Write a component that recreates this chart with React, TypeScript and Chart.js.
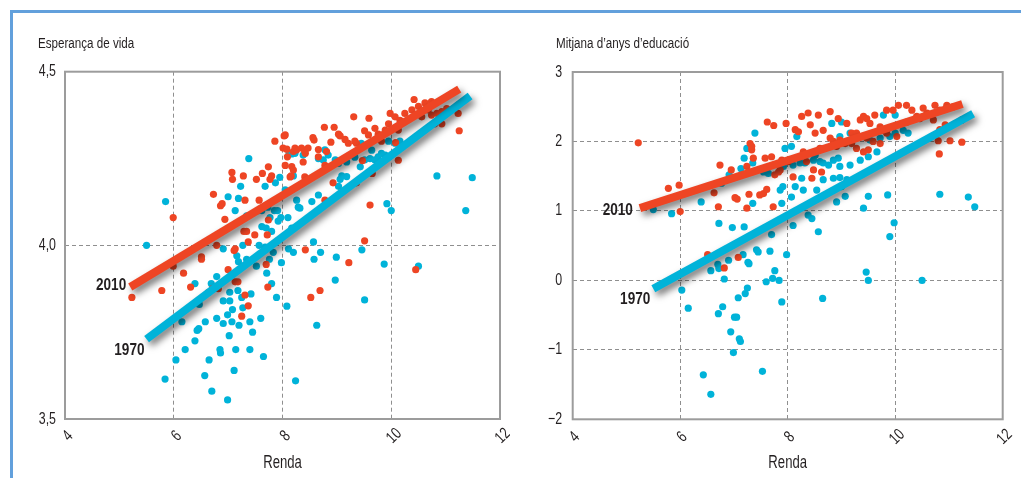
import React, { useEffect, useRef } from 'react';
import { Chart, registerables } from 'chart.js';

Chart.register(...registerables);

const FONT = '"Liberation Sans Narrow", "Liberation Sans", Arial, sans-serif';
const SX = 0.75; // horizontal squeeze to imitate a condensed face
const SX_BOLD = 0.8;
const RED = '#EE4524';
const BLUE = '#00B3D9';
const GRID = '#8f8f8f';
const BORDER = '#9c9c9c';
const FRAME = '#62a0dc';
const TEXT = '#231f20';

// ---------- shared axis data ----------
const xTicks = [4, 6, 8, 10, 12];
const xTickLabels = ['4', '6', '8', '10', '12'];
const xTitle = 'Renda';

// ---------- panel 1: life expectancy ----------
const lifeTitle = 'Esperança de vida';
const lifeYTicks = [3.5, 4.0, 4.5];
const lifeYTickLabels = ['3,5', '4,0', '4,5'];

const life2010: number[][] = [
  [5.23, 3.85], [5.78, 3.87], [5.99, 3.94], [5.99, 4.08], [6.18, 3.92], [6.31, 3.88], [6.51, 3.96],
  [6.51, 3.967], [6.64, 3.865], [6.71, 3.875], [6.73, 4.147], [6.79, 4.0], [6.82, 3.875], [6.86, 4.114],
  [6.89, 4.12], [6.94, 4.075], [7.0, 3.93], [7.07, 4.21], [7.08, 4.19], [7.11, 3.985], [7.13, 3.895],
  [7.18, 3.895], [7.13, 3.99], [7.25, 3.796], [7.28, 4.2], [7.29, 4.04], [7.31, 4.13], [7.31, 3.857],
  [7.34, 4.04], [7.37, 3.826], [7.37, 4.01], [7.49, 4.03], [7.52, 4.19], [7.57, 4.13], [7.63, 4.207],
  [7.7, 3.945], [7.72, 4.03], [7.73, 3.88], [7.74, 4.226], [7.74, 4.073], [7.77, 4.19], [7.8, 4.2],
  [7.86, 4.3], [8.03, 4.315], [8.01, 4.28], [8.05, 4.23], [8.05, 4.318], [8.08, 4.277], [8.09, 4.255],
  [8.14, 4.197], [8.16, 4.2], [8.17, 4.227], [8.2, 4.27], [8.2, 4.217], [8.23, 4.28], [8.26, 4.275],
  [8.35, 4.28], [8.38, 4.24], [8.41, 4.27], [8.41, 4.197], [8.42, 4.265], [8.42, 3.987], [8.47, 4.28],
  [8.52, 3.85], [8.56, 4.31], [8.58, 4.303], [8.66, 4.276], [8.66, 4.255], [8.69, 3.87], [8.77, 4.34],
  [8.78, 4.23], [8.78, 4.13], [8.81, 4.27], [8.89, 4.297], [8.93, 4.18], [8.95, 4.34], [9.03, 4.32],
  [9.06, 4.315], [9.15, 4.305], [9.21, 4.294], [9.22, 3.95], [9.31, 4.37], [9.33, 4.3], [9.36, 4.294],
  [9.36, 4.18], [9.47, 4.244], [9.51, 4.33], [9.51, 4.013], [9.58, 4.318], [9.59, 4.366], [9.61, 4.116],
  [9.65, 4.207], [9.7, 4.337], [9.76, 4.32], [9.82, 4.3], [9.89, 4.332], [9.95, 4.35], [9.98, 4.38],
  [10.07, 4.37], [10.08, 4.296], [10.13, 4.332], [10.13, 4.245], [10.16, 4.36], [10.25, 4.38],
  [10.38, 4.39], [10.42, 4.42], [10.45, 3.93], [10.5, 4.4], [10.56, 4.37], [10.62, 4.41], [10.68, 4.39],
  [10.74, 4.414], [10.74, 4.375], [10.8, 4.35], [10.84, 4.38], [10.93, 4.385], [10.93, 4.35],
  [11.02, 4.394], [11.23, 4.38], [11.25, 4.33],
];

const life1970: number[][] = [
  [5.5, 4.0], [5.84, 3.615], [5.85, 4.126], [6.04, 3.67], [6.15, 3.78], [6.21, 3.7], [6.39, 3.725],
  [6.39, 3.89], [6.43, 3.755], [6.46, 3.76], [6.47, 3.83], [6.57, 3.625], [6.58, 3.78], [6.65, 3.67],
  [6.69, 3.89], [6.7, 3.58], [6.79, 3.91], [6.79, 3.79], [6.85, 3.7], [6.86, 3.69], [6.91, 3.84],
  [6.91, 3.775], [6.91, 3.99], [6.99, 3.8], [6.99, 3.555], [7.0, 4.14], [7.02, 3.74], [7.03, 3.865],
  [7.03, 3.84], [7.07, 3.78], [7.08, 3.815], [7.11, 3.64], [7.13, 4.1], [7.14, 3.7], [7.16, 3.97],
  [7.18, 3.87], [7.19, 3.953], [7.19, 4.135], [7.2, 3.77], [7.23, 4.17], [7.25, 3.85], [7.27, 4.0],
  [7.27, 3.82], [7.34, 3.96], [7.34, 4.085], [7.38, 4.25], [7.4, 3.78], [7.4, 3.7], [7.42, 3.86],
  [7.45, 3.75], [7.52, 3.94], [7.56, 4.1], [7.57, 4.0], [7.6, 3.79], [7.62, 4.1], [7.62, 4.054],
  [7.65, 3.68], [7.68, 3.995], [7.68, 4.17], [7.7, 4.05], [7.71, 3.92], [7.73, 4.11], [7.76, 3.96],
  [7.77, 4.08], [7.8, 3.89], [7.8, 4.04], [7.83, 3.98], [7.85, 4.1], [7.87, 4.18], [7.89, 3.85],
  [7.91, 4.1], [7.92, 4.07], [7.95, 4.196], [7.97, 4.08], [7.98, 3.95], [8.05, 4.16], [8.08, 3.825],
  [8.1, 4.08], [8.11, 3.99], [8.12, 4.263], [8.17, 4.263], [8.17, 4.05], [8.2, 4.2], [8.2, 3.98],
  [8.23, 4.265], [8.24, 3.61], [8.26, 4.13], [8.29, 4.11], [8.32, 4.107], [8.38, 4.26], [8.54, 4.126],
  [8.57, 4.01], [8.58, 3.96], [8.63, 3.77], [8.66, 4.145], [8.66, 4.25], [8.7, 3.98], [8.75, 4.246],
  [8.78, 4.275], [8.84, 4.26], [8.97, 3.9], [8.97, 4.246], [8.99, 3.966], [9.03, 4.17], [9.03, 4.236],
  [9.06, 4.19], [9.09, 4.2], [9.18, 4.198], [9.18, 4.24], [9.33, 4.254], [9.43, 4.226], [9.45, 4.294],
  [9.46, 3.987], [9.51, 3.843], [9.51, 4.246], [9.61, 4.25], [9.64, 4.274], [9.7, 4.246], [9.76, 4.255],
  [9.82, 4.265], [9.87, 3.946], [9.89, 4.26], [9.92, 4.12], [9.95, 4.3], [10.0, 4.1], [10.07, 4.294],
  [10.16, 4.3], [10.5, 3.94], [10.84, 4.2], [11.37, 4.1], [11.49, 4.195],
];

const life2010Line: number[][] = [[5.2, 3.88], [11.25, 4.45]];
const life1970Line: number[][] = [[5.5, 3.73], [11.45, 4.43]];

// ---------- panel 2: mean years of education ----------
const eduTitle = 'Mitjana d’anys d’educació';
const eduYTicks = [-2, -1, 0, 1, 2, 3];
const eduYTickLabels = ['−2', '−1', '0', '1', '2', '3'];

const edu2010: number[][] = [
  [5.22, 1.98], [5.78, 1.325], [5.98, 1.37], [6.0, 0.99], [6.51, 0.37], [6.63, 1.26], [6.71, 1.06],
  [6.74, 1.66], [6.82, 0.18], [6.95, 1.59], [7.02, 1.19], [7.06, 1.17], [7.08, 0.33], [7.24, 1.04],
  [7.24, 1.64], [7.28, 1.24], [7.3, 1.97], [7.33, 1.88], [7.33, 1.93], [7.36, 1.76], [7.48, 1.23],
  [7.55, 1.25], [7.58, 1.76], [7.61, 1.31], [7.62, 2.28], [7.7, 1.78], [7.73, 1.06], [7.74, 2.23],
  [7.76, 1.52], [7.83, 1.56], [7.86, 1.59], [7.89, 1.73], [7.97, 2.26], [8.01, 1.71], [8.1, 1.49],
  [8.14, 2.17], [8.2, 2.14], [8.23, 1.78], [8.26, 2.36], [8.29, 1.85], [8.35, 1.71], [8.38, 2.41],
  [8.42, 2.24], [8.45, 1.47], [8.48, 1.59], [8.51, 2.12], [8.57, 2.38], [8.6, 1.9], [8.63, 1.56],
  [8.66, 2.16], [8.79, 2.43], [8.79, 2.05], [8.85, 2.0], [8.91, 1.93], [8.94, 2.33], [8.97, 2.02],
  [9.07, 1.97], [9.1, 2.26], [9.19, 2.12], [9.19, 1.97], [9.28, 2.12], [9.28, 1.9], [9.35, 2.31],
  [9.41, 2.36], [9.41, 1.85], [9.47, 2.33], [9.47, 2.05], [9.5, 1.88], [9.53, 2.26], [9.59, 2.0],
  [9.62, 2.38], [9.72, 2.21], [9.72, 1.97], [9.75, 2.16], [9.84, 2.45], [9.84, 2.12], [9.96, 2.45],
  [10.03, 2.07], [10.06, 2.52], [10.21, 2.52], [10.21, 2.28], [10.31, 2.45], [10.4, 2.36],
  [10.46, 2.33], [10.52, 2.48], [10.59, 2.41], [10.71, 2.31], [10.74, 2.52], [10.8, 2.01],
  [10.82, 1.82], [10.83, 2.45], [10.83, 2.17], [10.93, 2.24], [10.96, 2.52], [11.02, 2.01],
  [11.08, 2.5], [11.24, 2.31], [11.24, 1.99],
];

const edu1970: number[][] = [
  [5.5, 1.02], [5.84, 0.96], [6.03, -0.14], [6.15, -0.4], [6.39, 1.13], [6.43, -1.36], [6.57, 0.14],
  [6.57, -1.64], [6.7, 0.23], [6.71, -0.48], [6.72, 0.82], [6.72, 0.17], [6.77, 1.4], [6.79, -0.38],
  [6.82, 0.02], [6.9, 0.29], [6.91, 1.52], [6.94, -0.74], [6.97, 0.76], [6.99, -1.04], [7.01, -0.53],
  [7.05, -0.53], [7.08, -0.25], [7.1, -0.84], [7.12, -0.88], [7.13, 1.61], [7.17, 0.37], [7.19, 0.77],
  [7.19, 1.76], [7.21, -0.19], [7.24, 1.9], [7.25, -0.11], [7.26, 0.26], [7.28, 0.24], [7.35, 1.69],
  [7.35, 1.11], [7.39, 2.12], [7.42, 0.44], [7.45, 0.41], [7.53, -1.31], [7.55, 1.56], [7.6, -0.02],
  [7.64, 1.54], [7.67, 0.42], [7.7, 0.66], [7.72, 0.03], [7.76, 0.14], [7.84, 0.0], [7.86, 1.3],
  [7.89, -0.31], [7.89, 1.11], [7.91, 1.35], [7.92, 1.64], [7.95, 1.9], [7.98, 0.37], [8.07, 1.93],
  [8.07, 1.2], [8.1, 1.66], [8.1, 0.79], [8.14, 1.35], [8.17, 2.07], [8.23, 1.69], [8.26, 1.47],
  [8.29, 1.3], [8.32, 1.69], [8.38, 0.94], [8.45, 0.89], [8.48, 1.73], [8.51, 1.8], [8.54, 1.3],
  [8.57, 0.7], [8.6, 1.71], [8.65, -0.26], [8.66, 1.69], [8.66, 1.45], [8.76, 1.66], [8.82, 2.26],
  [8.85, 1.73], [8.85, 1.47], [8.91, 1.13], [8.94, 1.76], [8.97, 1.64], [8.97, 1.48], [8.97, 2.07],
  [9.0, 2.28], [9.0, 1.35], [9.07, 1.21], [9.1, 1.45], [9.16, 2.12], [9.16, 1.66], [9.35, 1.73],
  [9.41, 2.07], [9.41, 1.04], [9.46, 0.12], [9.5, 1.78], [9.5, 1.21], [9.5, 0.0], [9.53, 2.02],
  [9.66, 1.85], [9.72, 2.05], [9.78, 2.38], [9.84, 2.14], [9.86, 1.23], [9.9, 2.07], [9.9, 0.63],
  [9.98, 0.83], [10.0, 2.12], [10.0, 2.38], [10.15, 2.16], [10.24, 2.12], [10.5, 0.0], [10.83, 1.24],
  [11.36, 1.2], [11.48, 1.06],
];

const edu2010Line: number[][] = [[5.25, 1.04], [11.25, 2.54]];
const edu1970Line: number[][] = [[5.5, -0.12], [11.45, 2.4]];

const lineLabels = ['2010', '1970'];

// ---------- layout (styles only) ----------
interface Panel {
  title: string;
  yMin: number;
  yMax: number;
  yTicks: number[];
  yTickLabels: string[];
  red: number[][];
  blue: number[][];
  redLine: number[][];
  blueLine: number[][];
  left: number;
  top: number;
  w: number;
  h: number;
  yAxisW: number;
  xAxisH: number;
  padTop: number;
  padRight: number;
  yTickPad: number;
  titleX: number;
  titleY: number;
  xLabelY: number;
  xLabelDx: number;
  xTitleY: number;
  redLabelOff: [number, number];
  blueLabelOff: [number, number];
}

const panels: Panel[] = [
  {
    title: lifeTitle, yMin: 3.5, yMax: 4.5, yTicks: lifeYTicks, yTickLabels: lifeYTickLabels,
    red: life2010, blue: life1970, redLine: life2010Line, blueLine: life1970Line,
    left: 13, top: 13, w: 497, h: 465, yAxisW: 52, xAxisH: 59, padTop: 58.7, padRight: 10, yTickPad: 9,
    titleX: 25, titleY: 34.5, xLabelY: 423, xLabelDx: 3, xTitleY: 450,
    redLabelOff: [-4, 3], blueLabelOff: [-2, 16],
  },
  {
    title: eduTitle, yMin: -2, yMax: 3, yTicks: eduYTicks, yTickLabels: eduYTickLabels,
    red: edu2010, blue: edu1970, redLine: edu2010Line, blueLine: edu1970Line,
    left: 512, top: 13, w: 509, h: 465, yAxisW: 60.7, xAxisH: 58.7, padTop: 59, padRight: 18.3, yTickPad: 10.5,
    titleX: 44, titleY: 34.5, xLabelY: 424, xLabelDx: 2, xTitleY: 450,
    redLabelOff: [-7, 7], blueLabelOff: [-3, 15],
  },
];

const toXY = (a: number[][]) => a.map(([x, y]) => ({ x, y }));

const shadowPlugin = {
  id: 'lineShadow',
  beforeDatasetDraw(chart: any, args: any) {
    const ds = chart.data.datasets[args.index];
    if (ds.shadow) {
      const c = chart.ctx;
      c.save();
      c.shadowColor = 'rgba(0,0,0,0.55)';
      c.shadowBlur = 7;
      c.shadowOffsetX = 3;
      c.shadowOffsetY = 4;
    }
  },
  afterDatasetDraw(chart: any, args: any) {
    const ds = chart.data.datasets[args.index];
    if (ds.shadow) chart.ctx.restore();
  },
};

function squeezedText(
  ctx: CanvasRenderingContext2D, text: string, x: number, y: number,
  align: CanvasTextAlign, baseline: CanvasTextBaseline, rot = 0, sx = SX,
) {
  ctx.save();
  ctx.translate(x, y);
  if (rot) ctx.rotate(rot);
  ctx.scale(sx, 1);
  ctx.textAlign = align;
  ctx.textBaseline = baseline;
  ctx.fillText(text, 0, 0);
  ctx.restore();
}

function makeDecor(p: Panel) {
  return {
    id: 'decor',
    afterDraw(chart: any) {
      const { ctx, chartArea: a, scales } = chart;
      ctx.save();
      // plot frame
      ctx.strokeStyle = BORDER;
      ctx.lineWidth = 2;
      ctx.strokeRect(a.left, a.top, a.right - a.left, a.bottom - a.top);
      ctx.fillStyle = TEXT;
      // title
      ctx.font = `15.5px ${FONT}`;
      squeezedText(ctx, p.title, p.titleX, p.titleY, 'left', 'alphabetic');
      // y tick labels
      ctx.font = `16.5px ${FONT}`;
      p.yTicks.forEach((v, i) => {
        const py = scales.y.getPixelForValue(v);
        squeezedText(ctx, p.yTickLabels[i], a.left - p.yTickPad, py, 'right', 'middle');
      });
      // rotated x tick labels
      xTicks.forEach((v, i) => {
        const px = scales.x.getPixelForValue(v) + p.xLabelDx;
        squeezedText(ctx, xTickLabels[i], px, p.xLabelY, 'center', 'middle', -Math.PI / 4);
      });
      // x axis title
      ctx.font = `17.5px ${FONT}`;
      squeezedText(ctx, xTitle, (a.left + a.right) / 2, p.xTitleY, 'center', 'middle');
      // line labels
      ctx.font = `bold 17px ${FONT}`;
      const lines = [
        { pt: p.redLine[0], off: p.redLabelOff, text: lineLabels[0] },
        { pt: p.blueLine[0], off: p.blueLabelOff, text: lineLabels[1] },
      ];
      lines.forEach(({ pt, off, text }) => {
        const px = scales.x.getPixelForValue(pt[0]) + off[0];
        const py = scales.y.getPixelForValue(pt[1]) + off[1];
        squeezedText(ctx, text, px, py, 'right', 'alphabetic', 0, SX_BOLD);
      });
      ctx.restore();
    },
  };
}

function PanelChart({ p }: { p: Panel }) {
  const ref = useRef<HTMLCanvasElement>(null);
  useEffect(() => {
    const canvas = ref.current;
    if (!canvas) return;
    const chart = new Chart(canvas, {
      type: 'scatter',
      data: {
        datasets: [
          {
            label: '2010 tendència', data: toXY(p.redLine), showLine: true, borderColor: RED,
            backgroundColor: RED, borderWidth: 8, pointRadius: 0, borderCapStyle: 'butt', order: 0, shadow: true,
          } as any,
          {
            label: '1970 tendència', data: toXY(p.blueLine), showLine: true, borderColor: BLUE,
            backgroundColor: BLUE, borderWidth: 8, pointRadius: 0, borderCapStyle: 'butt', order: 1, shadow: true,
          } as any,
          {
            label: '2010', data: toXY(p.red), backgroundColor: RED, borderWidth: 0,
            pointRadius: 3.6, pointHoverRadius: 3.6, order: 2,
          },
          {
            label: '1970', data: toXY(p.blue), backgroundColor: BLUE, borderWidth: 0,
            pointRadius: 3.6, pointHoverRadius: 3.6, order: 3,
          },
        ],
      },
      options: {
        responsive: false,
        animation: false,
        events: [],
        layout: { padding: { top: p.padTop, right: p.padRight, left: 0, bottom: 0 }, autoPadding: false },
        plugins: { legend: { display: false }, tooltip: { enabled: false }, title: { display: false } },
        scales: {
          x: {
            type: 'linear', min: 4, max: 12,
            afterBuildTicks: (s: any) => { s.ticks = xTicks.map((v) => ({ value: v })); },
            afterFit: (s: any) => { s.height = p.xAxisH; },
            ticks: { display: false },
            grid: { color: GRID, lineWidth: 1, drawTicks: false },
            border: { display: false, dash: [4, 3] },
            title: { display: false },
          },
          y: {
            type: 'linear', min: p.yMin, max: p.yMax,
            afterBuildTicks: (s: any) => { s.ticks = p.yTicks.map((v) => ({ value: v })); },
            afterFit: (s: any) => { s.width = p.yAxisW; },
            ticks: { display: false },
            grid: { color: GRID, lineWidth: 1, drawTicks: false },
            border: { display: false, dash: [4, 3] },
          },
        },
      } as any,
      plugins: [shadowPlugin, makeDecor(p)],
    });
    return () => chart.destroy();
  }, [p]);
  return (
    <canvas
      ref={ref}
      width={p.w}
      height={p.h}
      style={{ position: 'absolute', left: p.left, top: p.top, width: p.w, height: p.h }}
    />
  );
}

export default function App() {
  return (
    <div style={{ position: 'fixed', left: 0, top: 0, width: 1021, height: 478, background: '#fff', overflow: 'hidden' }}>
      <div
        style={{
          position: 'absolute', left: 10, top: 10, right: 0, bottom: 0,
          borderTop: `3px solid ${FRAME}`, borderLeft: `3px solid ${FRAME}`,
        }}
      />
      {panels.map((p, i) => (
        <PanelChart key={i} p={p} />
      ))}
    </div>
  );
}
